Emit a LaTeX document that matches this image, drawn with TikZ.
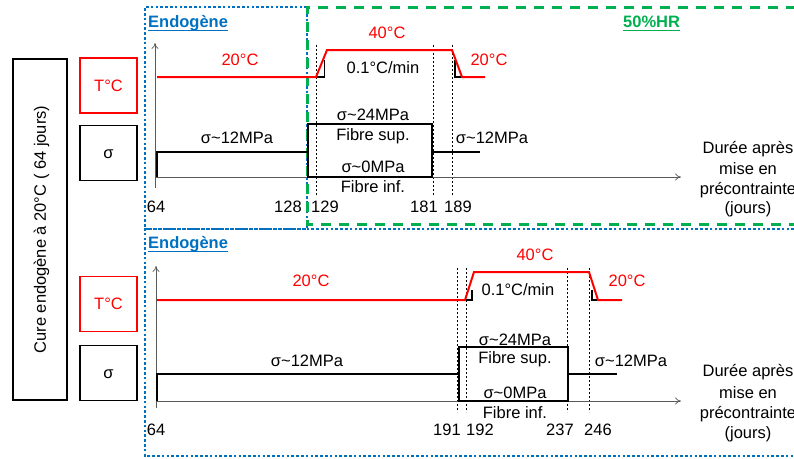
\documentclass[tikz,border=0pt]{standalone}
\usepackage{fontspec}
\setmainfont{Liberation Sans}
\usetikzlibrary{arrows.meta}
\definecolor{myred}{HTML}{FF0000}
\definecolor{myblue}{HTML}{0070C0}
\definecolor{mygreen}{HTML}{00B050}
\begin{document}
\begin{tikzpicture}[x=1pt,y=-1pt,
  lbl/.style={font=\fontsize{16.5}{20}\selectfont, inner sep=0pt, text height=11.8pt, text depth=0pt},
  rlbl/.style={lbl, text=myred},
  ttl/.style={font=\fontsize{16.5}{20}\selectfont\bfseries, inner sep=0pt, anchor=base west},
  bbox/.style={draw=black, line width=1.8, minimum width=57, minimum height=55, lbl},
  rbox/.style={bbox, draw=myred, text=myred},
  axis/.style={-{To[length=6pt,width=7pt]}, line width=0.7, draw=black!65},
  tline/.style={draw=myred, line width=2, line join=miter},
  sline/.style={draw=black, line width=2.2},
  tri/.style={draw=black, line width=1.6},
  vdot/.style={draw=black, line width=0.7, dash pattern=on 2pt off 2pt},
  bdot/.style={draw=myblue, line width=2.6, dash pattern=on 2.6pt off 2.2pt},
  gdash/.style={draw=mygreen, line width=3, dash pattern=on 10pt off 8pt}
]
\useasboundingbox (0,0) rectangle (794,458);

% ---- frames
\draw[bdot] (307,7) -- (145,7) -- (145,229) -- (307,229) -- cycle;
\draw[bdot] (794,229) -- (145,229) -- (145,456) -- (794,456);
\draw[gdash] (796,7) -- (307,7) -- (307,224) -- (796,224);

\node[ttl, text=myblue] (endo1) at (148,27) {Endogène};
\draw[myblue, line width=1.6] ([yshift=-3.5pt]endo1.base west) -- ([yshift=-3.5pt]endo1.base east);
\node[ttl, text=myblue] (endo2) at (148,248) {Endogène};
\draw[myblue, line width=1.6] ([yshift=-3.5pt]endo2.base west) -- ([yshift=-3.5pt]endo2.base east);
\node[ttl, text=mygreen] (hr) at (623,27) {50\%HR};
\draw[mygreen, line width=1.6] ([yshift=-3.5pt]hr.base west) -- ([yshift=-3.5pt]hr.base east);

% ---- left boxes
\node[draw, line width=1.8, rotate=90, minimum width=341, minimum height=54, lbl] (cure) at (40,229.5) {Cure endogène à 20°C ( 64 jours)};
\node[rbox] (t1) at (108.5,85.5) {T°C};
\node[bbox] (s1) at (108.5,153) {σ};
\node[rbox] (t2) at (108.5,304) {T°C};
\node[bbox] (s2) at (108.5,373) {σ};

% ================= TOP CHART
\draw[vdot] (316,45) -- (316,196);
\draw[vdot] (433,45) -- (433,196);
\draw[vdot] (452,45) -- (452,196);
\draw[axis] (155,188) -- (155,43);
\draw[axis] (155,177) -- (681,177);
\draw[tri] (316,77) -- (324.5,77) -- (324.5,60);
\draw[tri] (455,60) -- (455,77) -- (462,77);
\draw[tline] (157,77) -- (316,77) -- (327,50) -- (452,50) -- (462,77) -- (485,77);
\draw[sline] (157,177) -- (157,152) -- (308,152);
\draw[sline] (308,124) rectangle (432,177);
\draw[sline] (432,152) -- (480,152);

\node[rlbl] (a20) at (240,60) {20°C};
\node[rlbl] (a40) at (387,33) {40°C};
\node[rlbl] (a20b) at (489,60) {20°C};
\node[lbl] (arate) at (383,68) {0.1°C/min};
\node[lbl] (a24) at (373,115) {σ\textasciitilde 24MPa};
\node[lbl] (asup) at (373,135) {Fibre sup.};
\node[lbl] (a0) at (373,167) {σ\textasciitilde 0MPa};
\node[lbl] (ainf) at (373,187) {Fibre inf.};
\node[lbl] (a12) at (237,138) {σ\textasciitilde 12MPa};
\node[lbl] (a12b) at (492,138) {σ\textasciitilde 12MPa};
\node[lbl] (d1a) at (748,148) {Durée après};
\node[lbl] (d1b) at (748,169) {mise en};
\node[lbl] (d1c) at (748,189) {précontrainte};
\node[lbl] (d1d) at (748,208) {(jours)};
\node[lbl] (x64a) at (156,207) {64};
\node[lbl] (x128) at (288,207) {128};
\node[lbl] (x129) at (325,207) {129};
\node[lbl] (x181) at (424,207) {181};
\node[lbl] (x189) at (458,207) {189};

% ================= BOTTOM CHART
\draw[vdot] (457,268) -- (457,412);
\draw[vdot] (466,268) -- (466,412);
\draw[vdot] (567,268) -- (567,412);
\draw[vdot] (589,268) -- (589,412);
\draw[axis] (156,408) -- (156,266);
\draw[axis] (156,401) -- (681,401);
\draw[tri] (465,300) -- (472,300) -- (472,290);
\draw[tri] (592,290) -- (592,300) -- (598,300);
\draw[tline] (157,300) -- (465,300) -- (474,272) -- (589,272) -- (598,300) -- (622,300);
\draw[sline] (157,401) -- (157,374) -- (459,374);
\draw[sline] (459,347) rectangle (568,401);
\draw[sline] (568,374) -- (617,374);

\node[rlbl] (b20) at (311,281) {20°C};
\node[rlbl] (b40) at (535,255) {40°C};
\node[rlbl] (b20b) at (627,281) {20°C};
\node[lbl] (brate) at (518,290) {0.1°C/min};
\node[lbl] (b24) at (515,340) {σ\textasciitilde 24MPa};
\node[lbl] (bsup) at (515,358) {Fibre sup.};
\node[lbl] (b0) at (515,393) {σ\textasciitilde 0MPa};
\node[lbl] (binf) at (515,413) {Fibre inf.};
\node[lbl] (b12) at (307,361) {σ\textasciitilde 12MPa};
\node[lbl] (b12b) at (631,361) {σ\textasciitilde 12MPa};
\node[lbl] (d2a) at (748,371) {Durée après};
\node[lbl] (d2b) at (748,393) {mise en};
\node[lbl] (d2c) at (748,413) {précontrainte};
\node[lbl] (d2d) at (748,433) {(jours)};
\node[lbl] (x64b) at (156,430) {64};
\node[lbl] (x191) at (447,430) {191};
\node[lbl] (x192) at (480,430) {192};
\node[lbl] (x237) at (560,430) {237};
\node[lbl] (x246) at (598,430) {246};
\end{tikzpicture}
\end{document}
